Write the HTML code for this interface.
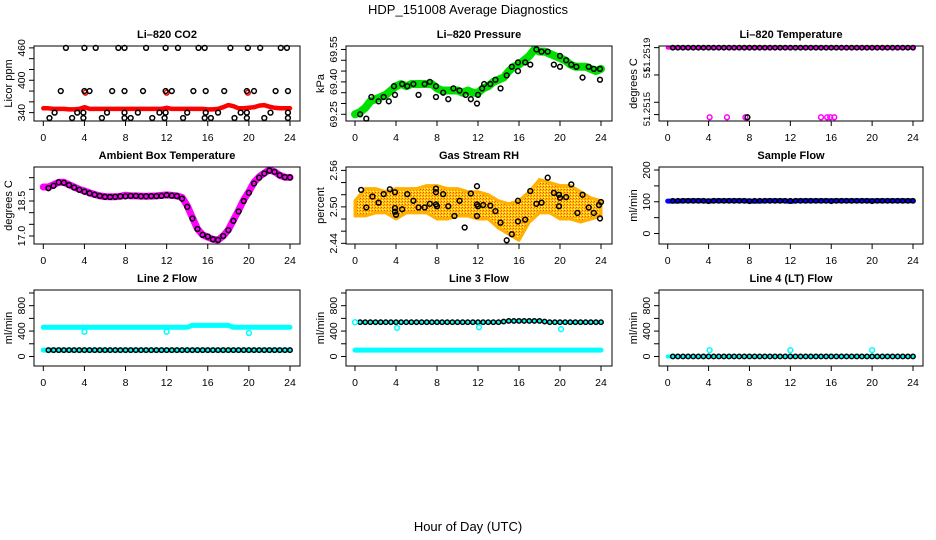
<!DOCTYPE html>
<html><head><meta charset="utf-8"><title>HDP_151008 Average Diagnostics</title>
<style>
html,body{margin:0;padding:0;background:#fff;}
svg{display:block;font-family:"Liberation Sans",Arial,sans-serif;}
</style></head>
<body>
<svg id="chart" width="936" height="540" viewBox="0 0 936 540" xmlns="http://www.w3.org/2000/svg">
<defs>
<pattern id="rhpat" width="3" height="3" patternUnits="userSpaceOnUse">
<rect width="3" height="3" fill="#ffc800"/><rect width="1" height="1" fill="#ff4000"/><rect x="2" y="1" width="1" height="1" fill="#ff8000"/><rect x="1" y="2" width="1" height="1" fill="#fff0a0"/>
</pattern>
</defs>
<text x="468" y="14" text-anchor="middle" font-size="13">HDP_151008  Average Diagnostics</text>
<text x="468" y="531" text-anchor="middle" font-size="13">Hour of Day (UTC)</text>
</svg>
<script>
const HOURS = [0,0.5,1,1.5,2,2.5,3,3.5,4,4.5,5,5.5,6,6.5,7,7.5,8,8.5,9,9.5,10,10.5,11,11.5,12,12.5,13,13.5,14,14.5,15,15.5,16,16.5,17,17.5,18,18.5,19,19.5,20,20.5,21,21.5,22,22.5,23,23.5,24];
const X_TICKS = [0,4,8,12,16,20,24];

// CO2
const CO2_RED = [348,348,347,347,347,346,346,347,350,347,347,347,347,347,347,347,347,347,347,347,347,347,347,347,349,347,347,347,347,347,347,347,346,346,347,350,354,352,348,348,349,350,353,354,351,349,348,348,348];
const CO2_RED_OUT_X = [4.1,12.0,19.9];
const CO2_RED_OUT_Y = [377,377,377];
const CO2_BLK_X = [2.2,4,5.1,7.3,7.9,10,11.9,13.1,15.1,15.7,18.2,19.9,21.1,23.1,23.7, 1.7,4,4.5,6.7,7.9,9.7,11.9,12.5,14.6,15.8,17.6,19.8,20.5,22.6,23.8, 1.1,3.3,3.9,6.2,7.9,9.2,11.3,11.9,14.0,15.8,17.0,19.2,19.8,22.1,23.8, 0.6,2.8,3.9,5.7,7.9,8.5,10.6,11.8,13.6,15.7,16.3,18.6,19.8,21.5,23.8];
const CO2_BLK_Y = [460,460,460,460,460,460,460,460,460,460,460,460,460,460,460, 380,380,380,380,380,380,380,380,380,380,380,380,380,380,380, 340,340,340,340,340,340,340,340,340,340,340,340,340,340,340, 330,330,330,330,330,330,330,330,330,330,330,330,330,330,330];

// Pressure
const PRES_GREEN = [69.25,69.26,69.28,69.31,69.32,69.33,69.34,69.36,69.38,69.39,69.38,69.39,69.39,69.39,69.39,69.39,69.37,69.36,69.36,69.36,69.36,69.35,69.36,69.35,69.35,69.37,69.38,69.40,69.41,69.42,69.45,69.47,69.48,69.50,69.52,69.55,69.54,69.54,69.53,69.52,69.51,69.50,69.48,69.47,69.47,69.47,69.46,69.45,69.46];
const PRES_BLK_X = [0.5,1.1,1.6,2.3,2.8,3.3,3.8,3.9,4.6,5.1,5.7,6.2,6.8,7.3,7.9,7.9,8.6,9.1,9.6,10.2,10.8,11.3,11.9,12,12.4,12.6,13.2,13.7,14.2,14.8,15.3,15.9,15.9,16.6,17.1,17.7,18.2,18.8,19.4,20,20,20.6,21.1,21.6,22.2,22.8,23.3,23.9,23.9];
const PRES_BLK_Y = [69.25,69.23,69.33,69.31,69.33,69.31,69.38,69.34,69.39,69.38,69.39,69.34,69.39,69.40,69.38,69.33,69.35,69.32,69.37,69.36,69.34,69.32,69.30,69.34,69.37,69.39,69.39,69.41,69.37,69.43,69.47,69.49,69.45,69.49,69.48,69.55,69.54,69.54,69.48,69.52,69.47,69.50,69.48,69.47,69.42,69.47,69.46,69.46,69.41];

// Li-820 temperature
const TEMP_TOP = [51.2519,51.2519,51.2519,51.2519,51.2519,51.2519,51.2519,51.2519,51.2519,51.2519,51.2519,51.2519,51.2519,51.2519,51.2519,51.2519,51.2519,51.2519,51.2519,51.2519,51.2519,51.2519,51.2519,51.2519,51.2519,51.2519,51.2519,51.2519,51.2519,51.2519,51.2519,51.2519,51.2519,51.2519,51.2519,51.2519,51.2519,51.2519,51.2519,51.2519,51.2519,51.2519,51.2519,51.2519,51.2519,51.2519,51.2519,51.2519,51.2519];
const TEMP_LOW_X = [4.1,5.8,7.6,15.0,15.6,15.9,16.3];
const TEMP_LOW_Y = [51.25139,51.25139,51.25139,51.25139,51.25139,51.25139,51.25139];
const TEMP_BLK_LOW_X = [7.8];
const TEMP_BLK_LOW_Y = [51.25139];

// Ambient box temperature
const AMB_MAG = [19.1,19.1,19.2,19.3,19.3,19.2,19.1,19.0,18.93,18.85,18.78,18.72,18.69,18.68,18.68,18.7,18.75,18.72,18.72,18.71,18.7,18.71,18.72,18.74,18.76,18.74,18.72,18.65,18.3,17.8,17.3,17.05,16.95,16.86,16.83,17.0,17.26,17.69,18.1,18.55,18.9,19.3,19.54,19.7,19.83,19.75,19.6,19.52,19.51];
const AMB_BLK = [null,19.05,19.15,19.3,19.28,19.18,19.08,18.98,18.9,18.83,18.77,18.72,18.68,18.67,18.68,18.7,18.7,18.72,18.72,18.7,18.7,18.71,18.71,18.72,18.75,18.73,18.71,18.6,18.25,17.75,17.3,17.05,16.98,16.86,16.83,17.0,17.25,17.65,18.05,18.5,18.85,19.25,19.5,19.68,19.8,19.75,19.6,19.52,19.51];

// Gas stream RH
const RH_HOURS = [0,1,2,3,4,5,6,7,8,9,10,11,12,13,14,15,16,17,18,19,20,21,22,23,24];
const RH_UPPER = [2.51,2.53,2.53,2.525,2.53,2.53,2.53,2.535,2.535,2.53,2.53,2.525,2.525,2.52,2.51,2.505,2.51,2.525,2.545,2.54,2.535,2.535,2.525,2.515,2.51];
const RH_LOWER = [2.485,2.485,2.49,2.49,2.48,2.49,2.49,2.49,2.48,2.48,2.485,2.485,2.48,2.48,2.465,2.455,2.445,2.475,2.49,2.49,2.48,2.48,2.475,2.48,2.485];
const RH_BLK_X = [0.6,1.1,1.7,2.3,2.8,3.4,3.9,3.9,3.9,4.0,4.6,5.1,5.7,6.2,6.8,7.3,7.9,7.9,7.9,8.0,8.6,9.1,9.7,10.2,10.7,11.3,11.9,11.9,12.0,11.9,12.5,13.2,13.7,14.2,14.8,15.3,15.9,15.9,16.6,17.1,17.7,18.2,18.8,19.4,19.9,19.9,20.0,20.6,21.1,21.7,22.2,22.8,23.3,23.8,24.0,23.9];
const RH_BLK_Y = [2.528,2.499,2.517,2.507,2.521,2.529,2.524,2.498,2.492,2.487,2.496,2.521,2.510,2.499,2.499,2.505,2.530,2.524,2.504,2.501,2.521,2.501,2.485,2.510,2.466,2.522,2.534,2.504,2.501,2.485,2.503,2.502,2.493,2.474,2.445,2.455,2.510,2.476,2.479,2.526,2.505,2.507,2.548,2.523,2.501,2.520,2.515,2.516,2.537,2.490,2.520,2.499,2.490,2.503,2.508,2.481];

// Sample flow
const SAMPLE_BLUE = [102,102,102,103,103,103,103,103,102,103,103,103,103,103,103,103,102,102,102,103,103,103,103,103,101,103,103,103,103,103,103,103,103,103,103,103,103,103,103,103,103,103,103,103,103,103,103,103,103];
const SAMPLE_BLK = [null,103,103,103,103,103,103,103,102,103,103,103,103,103,103,103,102,103,103,103,103,103,103,103,103,103,103,103,103,103,103,103,102,103,103,103,103,103,103,103,102,103,103,103,103,103,103,103,103];

// Line 2 flow
const L2_CYAN_HI = [460,460,460,460,460,460,460,460,460,460,460,460,460,460,460,460,460,460,460,460,460,460,460,460,460,460,460,460,460,490,490,490,490,490,490,490,490,460,460,460,460,460,460,460,460,460,460,460,460];
const L2_CYAN_LO = [100,100,100,100,100,100,100,100,100,100,100,100,100,100,100,100,100,100,100,100,100,100,100,100,100,100,100,100,100,100,100,100,100,100,100,100,100,100,100,100,100,100,100,100,100,100,100,100,100];
const L2_BLK = [null,100,100,100,100,100,100,100,100,100,100,100,100,100,100,100,100,100,100,100,100,100,100,100,100,100,100,100,100,100,100,100,100,100,100,100,100,100,100,100,100,100,100,100,100,100,100,100,100];
const L2_DIP_X = [4,12,20];
const L2_DIP_Y = [390,390,370];

// Line 3 flow
const L3_BLK = [null,540,540,540,540,540,540,540,540,540,540,540,540,540,540,540,540,540,540,540,540,540,540,540,540,540,540,540,540,550,560,560,560,560,560,560,560,550,540,540,540,540,540,540,540,540,540,540,540];
const L3_CYAN_LO = [100,100,100,100,100,100,100,100,100,100,100,100,100,100,100,100,100,100,100,100,100,100,100,100,100,100,100,100,100,100,100,100,100,100,100,100,100,100,100,100,100,100,100,100,100,100,100,100,100];
const L3_CYAN_X = [0,4.1,12.1,20.1];
const L3_CYAN_Y = [540,450,460,430];

// Line 4 flow
const L4_CYAN = [0,0,0,0,0,0,0,0,0,0,0,0,0,0,0,0,0,0,0,0,0,0,0,0,0,0,0,0,0,0,0,0,0,0,0,0,0,0,0,0,0,0,0,0,0,0,0,0,0];
const L4_BLK = [null,0,0,0,0,0,0,0,0,0,0,0,0,0,0,0,0,0,0,0,0,0,0,0,0,0,0,0,0,0,0,0,0,0,0,0,0,0,0,0,0,0,0,0,0,0,0,0,0];
const L4_SPIKE_X = [4.1,12,20];
const L4_SPIKE_Y = [100,100,100];

const svg = document.getElementById('chart');
const NS = 'http://www.w3.org/2000/svg';
function mk(tag, attrs, parent){
  const e = document.createElementNS(NS, tag);
  for (const k in attrs) e.setAttribute(k, attrs[k]);
  (parent||svg).appendChild(e);
  return e;
}

function makePanel(key, cfg){
  const g = mk('g', {});
  
  
  const sx = h => cfg.x0 + (h/24)*(cfg.x24 - cfg.x0);
  const sy = v => cfg.bottom - (v - cfg.ymin)/(cfg.ymax - cfg.ymin)*(cfg.bottom - cfg.top);
  const plot = mk('g', {}, g);
  
  
  const t = mk('text', {x:(cfg.left+cfg.right)/2, y:cfg.top-8, 'text-anchor':'middle', 'font-size':11, 'font-weight':'bold'}, g);
  t.textContent = cfg.title;
  
  
  const box = mk('rect', {x:cfg.left, y:cfg.top, width:cfg.right-cfg.left, height:cfg.bottom-cfg.top, fill:'none', stroke:'#000', 'stroke-width':1}, g);
  
  
  const xa = mk('g', {}, g);
  
  
  X_TICKS.forEach(h => {
    mk('line', {x1:sx(h), x2:sx(h), y1:cfg.bottom, y2:cfg.bottom+5, stroke:'#000'}, xa);
    const l = mk('text', {x:sx(h), y:cfg.bottom+20, 'text-anchor':'middle', 'font-size':10.5}, xa);
    l.textContent = String(h);
    
    
  });
  const ya = mk('g', {}, g);
  
  
  cfg.yTicks.forEach(v => {
    mk('line', {x1:cfg.left-5, x2:cfg.left, y1:sy(v), y2:sy(v), stroke:'#000'}, ya);
  });
  cfg.yLabels.forEach((v, i) => {
    const lx = cfg.left - 9, ly = sy(v);
    const l = mk('text', {x:lx, y:ly, 'text-anchor':'middle', 'font-size':cfg.yFont||10.5, transform:'rotate(-90 '+lx+' '+ly+')'}, ya);
    l.textContent = cfg.yLabelText ? cfg.yLabelText[i] : String(v);
    
    
  });
  const yt = cfg.left - 22, ym = (cfg.top + cfg.bottom)/2;
  const at = mk('text', {x:yt, y:ym, 'text-anchor':'middle', 'font-size':11, transform:'rotate(-90 '+yt+' '+ym+')'}, ya);
  at.textContent = cfg.ylab;
  
  
  return {plot, sx, sy};
}

function band(p, xs, ys, color, width, name){
  const pts = [];
  xs.forEach((h, i) => { if (ys[i] !== null) pts.push(p.sx(h).toFixed(1) + ',' + p.sy(ys[i]).toFixed(1)); });
  const pl = mk('polyline', {points:pts.join(' '), fill:'none', stroke:color, 'stroke-width':width, 'stroke-linejoin':'round', 'stroke-linecap':'round'}, p.plot);
  
  
}
function circles(p, xs, ys, color, name, r, sw){
  const g = mk('g', {}, p.plot);
  
  
  xs.forEach((h, i) => {
    if (ys[i] === null) return;
    const c = mk('circle', {cx:p.sx(h), cy:p.sy(ys[i]), r:r||2.4, fill:'none', stroke:color, 'stroke-width':sw||1.5}, g);
    
    
  });
}

const C1 = {left:34, right:300, x0:43.3, x24:290};
const C2 = {left:346, right:612, x0:355, x24:601};
const C3 = {left:659, right:923, x0:667.7, x24:913};
const R1 = {top:46, bottom:121}, R2 = {top:167, bottom:244}, R3 = {top:290, bottom:366};

let p = makePanel('co2', Object.assign({}, C1, R1, {ymin:324.5, ymax:463.5, yTicks:[340,360,380,400,420,440,460], yLabels:[340,400,460], title:'Li\u2013820 CO2', ylab:'Licor ppm'}));
band(p, HOURS, CO2_RED, '#ff0000', 4.5, 'co2-red-series');
circles(p, CO2_RED_OUT_X, CO2_RED_OUT_Y, '#ff0000', 'co2-red-outliers');
circles(p, CO2_BLK_X, CO2_BLK_Y, '#000', 'co2-black-points');

p = makePanel('pressure', Object.assign({}, C2, R1, {ymin:69.219, ymax:69.566, yTicks:[69.25,69.30,69.35,69.40,69.45,69.50,69.55], yLabels:[69.25,69.40,69.55], yLabelText:['69.25','69.40','69.55'], title:'Li\u2013820 Pressure', ylab:'kPa'}));
band(p, HOURS, PRES_GREEN, '#00e000', 8, 'pressure-green-series');
circles(p, PRES_BLK_X, PRES_BLK_Y, '#000', 'pressure-black-points');

p = makePanel('li820-temp', Object.assign({}, C3, R1, {ymin:51.251363, ymax:51.251912, yTicks:[51.2519,51.2517,51.2515,51.25141], yLabels:[51.251847,51.251715,51.25145], yLabelText:['51.2519','51','51.2515'], yFont:9.5, title:'Li\u2013820 Temperature', ylab:'degrees C'}));
band(p, HOURS, TEMP_TOP, '#ff00ff', 4, 'temp-magenta-series');
circles(p, HOURS.slice(1), TEMP_TOP.slice(1), '#000', 'temp-black-points', 2.2, 1.5);
circles(p, TEMP_LOW_X, TEMP_LOW_Y, '#ff00ff', 'temp-magenta-low-points');
circles(p, TEMP_BLK_LOW_X, TEMP_BLK_LOW_Y, '#000', 'temp-black-low-points');

p = makePanel('ambient', Object.assign({}, C1, R2, {ymin:16.657, ymax:19.957, yTicks:[17,17.5,18,18.5,19,19.5], yLabels:[17,18.5], yLabelText:['17.0','18.5'], title:'Ambient Box Temperature', ylab:'degrees C'}));
band(p, HOURS, AMB_MAG, '#ff00ff', 7, 'ambient-magenta-series');
circles(p, HOURS, AMB_BLK, '#000', 'ambient-black-points');

p = makePanel('rh', Object.assign({}, C2, R2, {ymin:2.4389, ymax:2.5656, yTicks:[2.44,2.46,2.48,2.50,2.52,2.54,2.56], yLabels:[2.44,2.50,2.56], yLabelText:['2.44','2.50','2.56'], title:'Gas Stream RH', ylab:'percent'}));
(function(){
  const pts = [];
  RH_HOURS.forEach((h,i) => pts.push(p.sx(h).toFixed(1)+','+p.sy(RH_UPPER[i]).toFixed(1)));
  for (let i = RH_HOURS.length-1; i >= 0; i--) pts.push(p.sx(RH_HOURS[i]).toFixed(1)+','+p.sy(RH_LOWER[i]).toFixed(1));
  const poly = mk('polygon', {points:pts.join(' '), fill:'url(#rhpat)', stroke:'#ffb000', 'stroke-width':3, 'stroke-linejoin':'round'}, p.plot);
  
  
})();
circles(p, RH_BLK_X, RH_BLK_Y, '#000', 'rh-black-points');

p = makePanel('sample-flow', Object.assign({}, C3, R2, {ymin:-33, ymax:209.5, yTicks:[0,50,100,150,200], yLabels:[0,100,200], title:'Sample Flow', ylab:'ml/min'}));
band(p, HOURS, SAMPLE_BLUE, '#0000ff', 5, 'sample-blue-series');
circles(p, HOURS, SAMPLE_BLK, '#000', 'sample-black-points', 2.2, 1.5);

const FLOW = {ymin:-150, ymax:1047, yTicks:[0,200,400,600,800,1000], yLabels:[0,400,800], ylab:'ml/min'};
p = makePanel('line2', Object.assign({}, C1, R3, FLOW, {title:'Line 2 Flow'}));
band(p, HOURS, L2_CYAN_HI, '#00ffff', 5, 'line2-cyan-high');
band(p, HOURS, L2_CYAN_LO, '#00ffff', 5, 'line2-cyan-low');
circles(p, HOURS, L2_BLK, '#000', 'line2-black-points', 2.2, 1.5);
circles(p, L2_DIP_X, L2_DIP_Y, '#00ffff', 'line2-cyan-dips');

p = makePanel('line3', Object.assign({}, C2, R3, FLOW, {title:'Line 3 Flow'}));
band(p, HOURS, L3_CYAN_LO, '#00ffff', 5, 'line3-cyan-low');
band(p, HOURS.slice(1), L3_BLK.slice(1), '#00ffff', 3, 'line3-cyan-high');
circles(p, HOURS, L3_BLK, '#000', 'line3-black-points', 2.2, 1.5);
circles(p, L3_CYAN_X, L3_CYAN_Y, '#00ffff', 'line3-cyan-dips');

p = makePanel('line4', Object.assign({}, C3, R3, FLOW, {title:'Line 4 (LT) Flow'}));
band(p, HOURS, L4_CYAN, '#00ffff', 4, 'line4-cyan-series');
circles(p, HOURS, L4_BLK, '#000', 'line4-black-points', 2.2, 1.5);
circles(p, L4_SPIKE_X, L4_SPIKE_Y, '#00ffff', 'line4-cyan-spikes');
</script>
</body></html>
